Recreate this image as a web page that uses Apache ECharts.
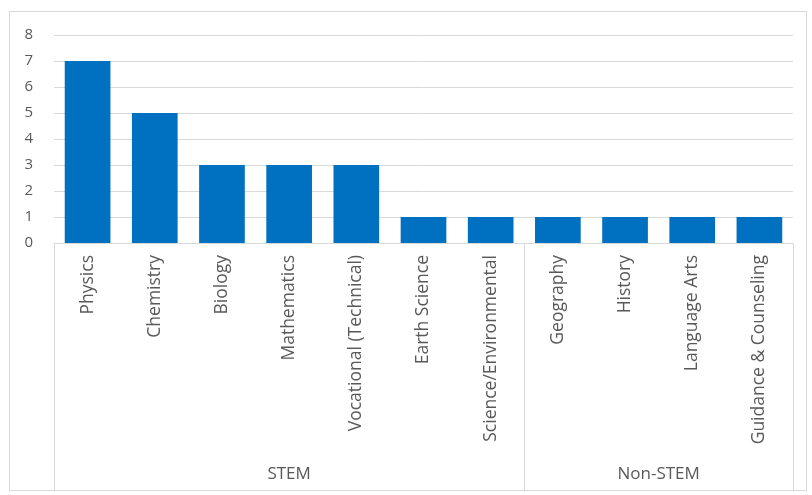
<!DOCTYPE html>
<html><head><meta charset="utf-8">
<script src="https://cdn.jsdelivr.net/npm/echarts@6/dist/echarts.min.js"></script>
<style>
html,body{margin:0;padding:0;background:#fff;}
#frame{position:absolute;left:9px;top:11px;width:798px;height:480px;border:1px solid #d9d9d9;box-sizing:border-box;}
#chart{position:absolute;left:0;top:0;width:812px;height:495px;}
</style></head>
<body>
<div id="frame"></div>
<div id="chart"></div>
<script>
const categories = ['Physics','Chemistry','Biology','Mathematics','Vocational (Technical)','Earth Science','Science/Environmental','Geography','History','Language Arts','Guidance & Counseling'];
const values = [7,5,3,3,3,1,1,1,1,1,1];
const groupNames = ['STEM','Non-STEM'];
const groupSizes = [7,4];
const yTicks = [0,1,2,3,4,5,6,7,8];

const bounds = [0];
const centers = [];
groupSizes.forEach((s,i)=>{ const start = bounds[bounds.length-1]; centers.push(start + s/2); bounds.push(start + s); });

const font = '"Open Sans", sans-serif';
const chart = echarts.init(document.getElementById('chart'));
chart.setOption({
  animation:false,
  grid:{left:54,right:19,top:35,bottom:252,containLabel:false},
  xAxis:[{
    type:'category', data:categories,
    axisLine:{lineStyle:{color:'#d9d9d9'}},
    axisTick:{show:false},
    axisLabel:{rotate:90,margin:12,color:'#595959',fontSize:17.5,fontFamily:font,interval:0}
  },{
    type:'value', min:0, max:categories.length, position:'bottom', offset:247,
    axisLine:{show:false},
    splitLine:{show:false},
    axisTick:{show:true, inside:true, length:247, customValues:bounds, lineStyle:{color:'#d9d9d9'}},
    axisLabel:{inside:true, margin:7, customValues:centers, color:'#595959', fontSize:17, fontFamily:font,
      formatter:(v)=>{ const i = centers.indexOf(v); return i>=0 ? groupNames[i] : ''; }}
  }],
  yAxis:{
    type:'value', min:yTicks[0], max:yTicks[yTicks.length-1], interval:1,
    axisLine:{show:false}, axisTick:{show:false},
    splitLine:{lineStyle:{color:'#d9d9d9'}},
    axisLabel:{color:'#595959',fontSize:15,fontFamily:font,margin:21}
  },
  series:[{type:'bar', data:values, barWidth:'68%', itemStyle:{color:'#0070C0'}, xAxisIndex:0}]
});
</script>
</body></html>
